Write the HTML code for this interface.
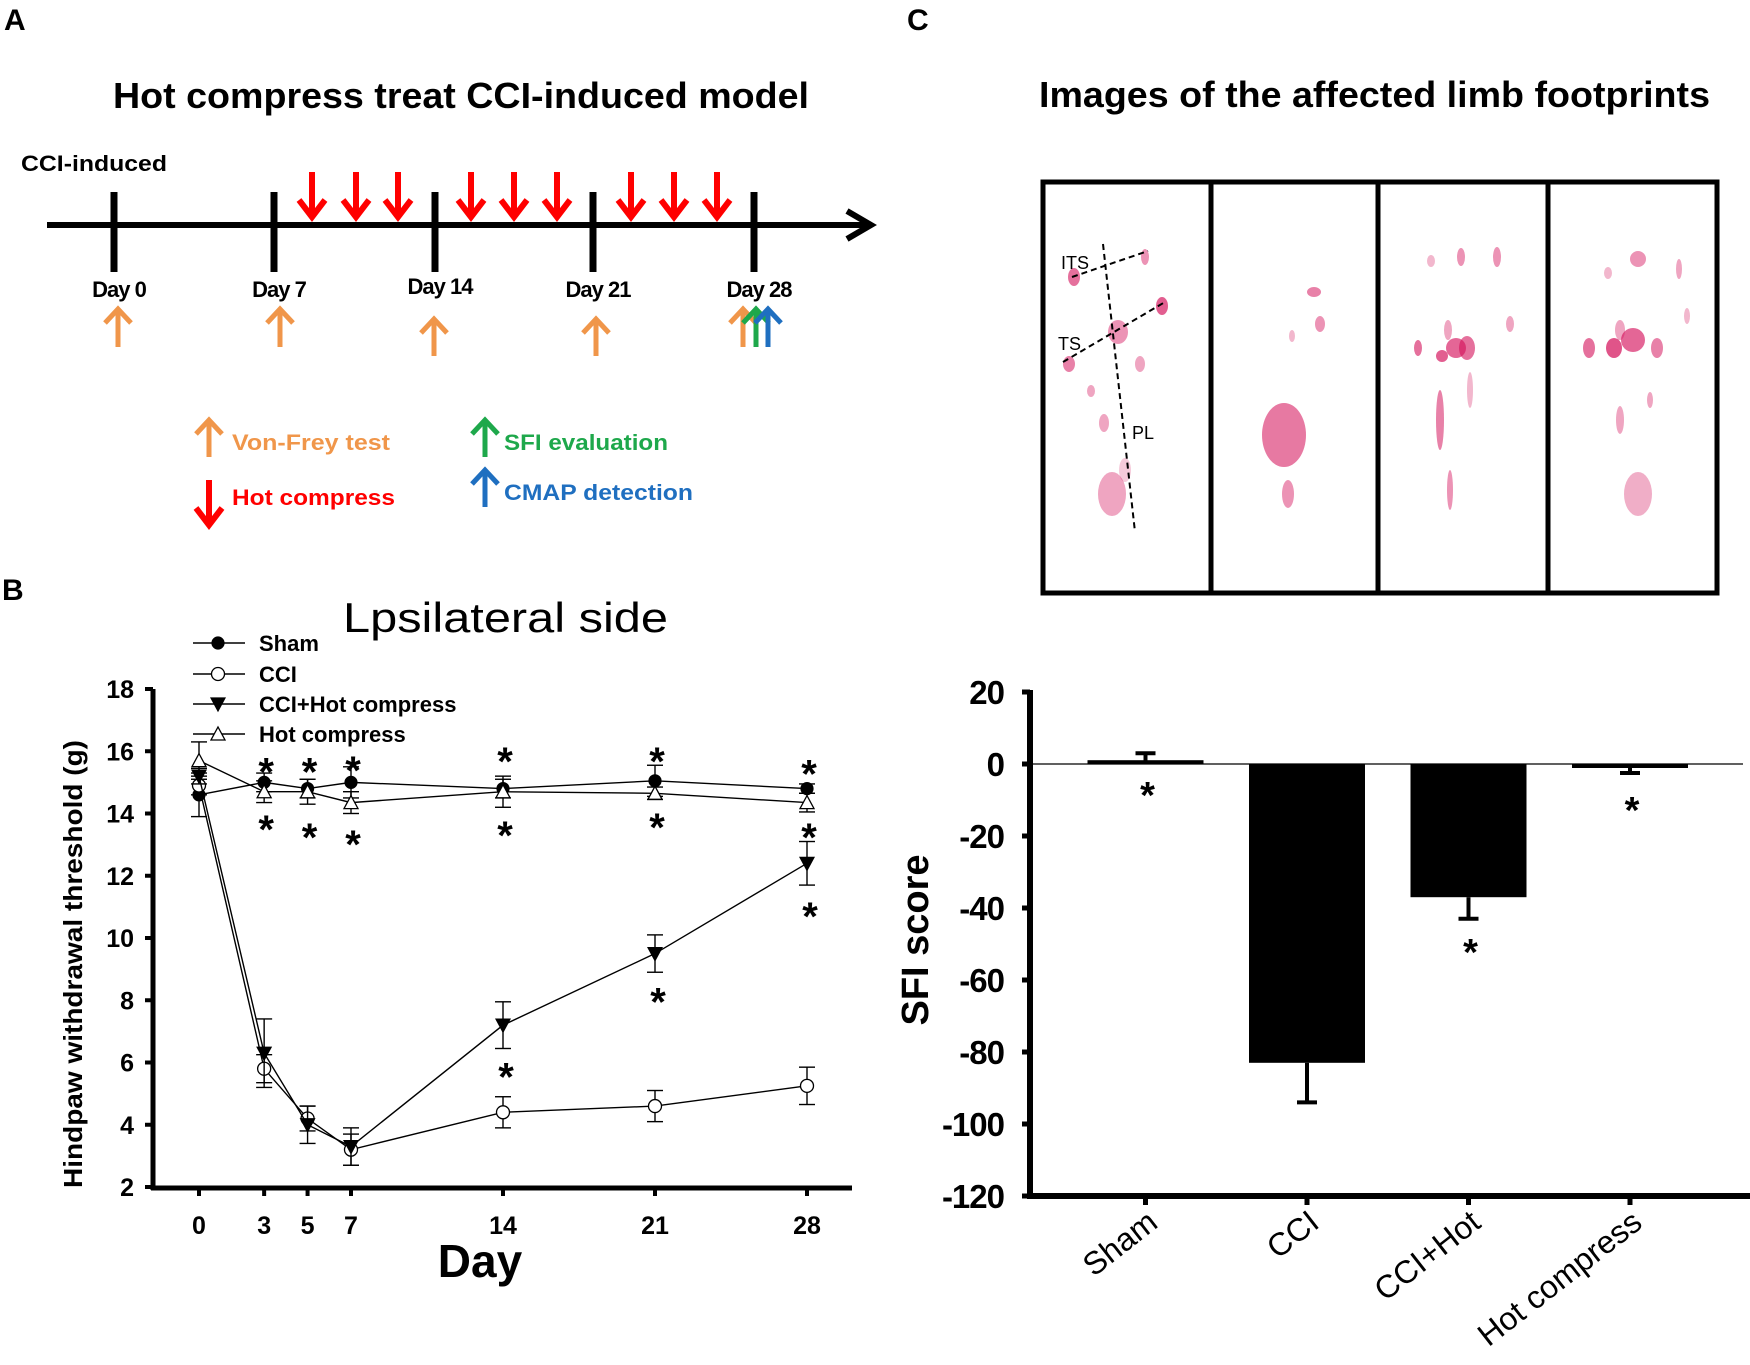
<!DOCTYPE html>
<html><head><meta charset="utf-8"><title>Hot compress CCI figure</title>
<style>
html,body{margin:0;padding:0;background:#fff;}
svg{display:block;font-family:"Liberation Sans",Arial,sans-serif;}
</style></head>
<body>
<svg id="fig" width="1750" height="1365" viewBox="0 0 1750 1365" xmlns="http://www.w3.org/2000/svg">
<rect width="1750" height="1365" fill="#fff"/>
<!-- Panel letters -->
<text x="4" y="30" font-size="30" font-weight="bold">A</text>
<text x="2" y="600" font-size="30" font-weight="bold">B</text>
<text x="907" y="30" font-size="30" font-weight="bold">C</text>

<!-- Panel A -->
<g>
<text x="113" y="108" font-size="36" font-weight="bold" textLength="696" lengthAdjust="spacingAndGlyphs">Hot compress treat CCI-induced model</text>
<text x="21" y="171" font-size="22" font-weight="bold" textLength="146" lengthAdjust="spacingAndGlyphs">CCI-induced</text>
<line x1="47" y1="225" x2="870" y2="225" stroke="#000" stroke-width="6"/>
<polyline points="847,211 871,225 847,239" fill="none" stroke="#000" stroke-width="6" stroke-linejoin="miter"/>
<g id="tl"></g>
<g id="legendA"></g>
</g>

<!-- Panel C footprints -->
<g>
<text x="1039" y="107" font-size="36" font-weight="bold" textLength="671" lengthAdjust="spacingAndGlyphs">Images of the affected limb footprints</text>
<g id="fp"></g>
</g>

<g id="lineChart"></g>
<g id="barChart"></g>
</svg>
<script>
// ===== Line chart data =====
const days = [0, 3, 5, 7, 14, 21, 28];
const yTicks = [2, 4, 6, 8, 10, 12, 14, 16, 18];
const shamVals = [14.6, 15.0, 14.8, 15.0, 14.8, 15.05, 14.8];
const shamErr = [0.7, 0.3, 0.3, 0.5, 0.3, 0.5, 0.15];
const cciVals = [14.9, 5.8, 4.2, 3.2, 4.4, 4.6, 5.25];
const cciErr = [0.3, 0.45, 0.4, 0.5, 0.5, 0.5, 0.6];
const cciHotVals = [15.2, 6.3, 4.0, 3.3, 7.2, 9.5, 12.4];
const cciHotErr = [0.25, 1.1, 0.6, 0.6, 0.75, 0.6, 0.7];
const hotVals = [15.7, 14.7, 14.7, 14.35, 14.7, 14.65, 14.35];
const hotErr = [0.6, 0.35, 0.4, 0.35, 0.5, 0.2, 0.3];
const starDays = [3, 5, 7, 14, 21, 28];
const starAbove = [15.6, 15.6, 15.65, 15.95, 15.95, 15.55];
const starBelow = [13.76, 13.5, 13.28, 13.57, 13.83, 13.5];
const starCciHotDays = [14, 21, 28];
const starCciHot = [5.81, 8.22, 10.97];

// ===== Bar chart data =====
const groups = ['Sham', 'CCI', 'CCI+Hot', 'Hot compress'];
const sfiVals = [0.5, -83, -37, -0.5];
const sfiErr = [2.5, 11, 6, 2];
const sfiTicks = [20, 0, -20, -40, -60, -80, -100, -120];
const sfiStars = [-6.7, null, -50.3, -10.8];

const NS = 'http://www.w3.org/2000/svg';
function mk(tag, attrs, parent, txt) {
  const e = document.createElementNS(NS, tag);
  for (const k in attrs) e.setAttribute(k, attrs[k]);
  if (txt !== undefined) e.textContent = txt;
  parent.appendChild(e);
  return e;
}

// ----- Timeline (panel A) -----
(function () {
  const g = document.getElementById('tl');
  const tickX = [114, 274, 435, 593, 754];
  const labels = ['Day 0', 'Day 7', 'Day 14', 'Day 21', 'Day 28'];
  const labY = [297, 297, 294, 297, 297];
  tickX.forEach((x, i) => {
    const t = mk('line', {x1: x, y1: 192, x2: x, y2: 272, stroke: '#000', 'stroke-width': 7}, g);
    
    
    const l = mk('text', {x: x + 5, y: labY[i], 'font-size': 22, 'font-weight': 'bold', 'text-anchor': 'middle', 'letter-spacing': '-1'}, g, labels[i]);
    
    
  });
  function down(x, y1, y2, col, parent) {
    const a = mk('g', {}, parent);
    
    
    mk('line', {x1: x, y1: y1, x2: x, y2: y2 - 4, stroke: col, 'stroke-width': 6}, a);
    mk('polyline', {points: `${x - 13},${y2 - 17} ${x},${y2} ${x + 13},${y2 - 17}`, fill: 'none', stroke: col, 'stroke-width': 6}, a);
  }
  function up(x, y1, y2, col, parent, name) {
    const a = mk('g', {}, parent);
    
    
    mk('line', {x1: x, y1: y1 + 4, x2: x, y2: y2, stroke: col, 'stroke-width': 5}, a);
    mk('polyline', {points: `${x - 13},${y1 + 16} ${x},${y1 + 2} ${x + 13},${y1 + 16}`, fill: 'none', stroke: col, 'stroke-width': 5}, a);
  }
  [312, 356, 398, 471, 514, 557, 631, 674, 717].forEach(x => down(x, 172, 217, '#f00', g));
  const OR = '#f0964a', GR = '#1ea84b', BL = '#1f6fc0', RD = '#f00';
  [[118, 307, 347], [280, 307, 347], [434, 317, 356], [596, 317, 356], [743, 307, 347]].forEach(a => up(a[0], a[1], a[2], OR, g, 'von-frey-arrow'));
  up(756, 307, 347, GR, g, 'sfi-arrow');
  up(768, 307, 347, BL, g, 'cmap-arrow');
  const L = document.getElementById('legendA');
  up(209, 418, 457, OR, L, 'legend-von-frey-icon');
  down(209, 480, 525, RD, L);
  up(485, 418, 457, GR, L, 'legend-sfi-icon');
  up(485, 468, 507, BL, L, 'legend-cmap-icon');
  const t1 = mk('text', {x: 232, y: 450, 'font-size': 22, 'font-weight': 'bold', fill: OR, textLength: 158, lengthAdjust: 'spacingAndGlyphs'}, L, 'Von-Frey test');
  
  
  const t2 = mk('text', {x: 232, y: 505, 'font-size': 22, 'font-weight': 'bold', fill: RD, textLength: 163, lengthAdjust: 'spacingAndGlyphs'}, L, 'Hot compress');
  
  
  const t3 = mk('text', {x: 504, y: 450, 'font-size': 22, 'font-weight': 'bold', fill: GR, textLength: 164, lengthAdjust: 'spacingAndGlyphs'}, L, 'SFI evaluation');
  
  
  const t4 = mk('text', {x: 504, y: 500, 'font-size': 22, 'font-weight': 'bold', fill: BL, textLength: 189, lengthAdjust: 'spacingAndGlyphs'}, L, 'CMAP detection');
  
  
})();

// ----- Footprints (panel C) -----
(function () {
  const g = document.getElementById('fp');
  const frame = mk('rect', {x: 1043, y: 182, width: 674, height: 411, fill: 'none', stroke: '#000', 'stroke-width': 5}, g);
  
  
  [1211, 1378, 1548].forEach(x => {
    const d = mk('line', {x1: x, y1: 182, x2: x, y2: 593, stroke: '#000', 'stroke-width': 5}, g);
    
    
  });
  const spots = [
    [1074,277,6,9,.8],[1145,257,4,8,.6],[1162,306,6,9,.9],[1118,332,10,12,.6],[1069,364,6,8,.7],[1140,364,5,8,.5],[1091,391,4,6,.5],[1104,423,5,9,.5],[1112,494,14,22,.5],[1125,470,6,12,.3],
    [1284,435,22,32,.75],[1288,494,6,14,.6],[1314,292,7,5,.7],[1320,324,5,8,.6],[1292,336,3,6,.4],
    [1456,348,10,10,.85],[1467,348,8,12,.8],[1442,356,6,6,.9],[1418,348,4,8,.8],[1461,257,4,9,.6],[1431,261,4,6,.4],[1497,257,4,10,.6],[1510,324,4,8,.5],[1448,330,4,10,.5],[1440,420,4,30,.7],[1450,490,3,20,.6],[1470,390,3,18,.4],
    [1633,340,12,12,.85],[1614,348,8,10,.95],[1589,348,6,10,.8],[1657,348,6,10,.7],[1638,259,8,8,.6],[1608,273,4,6,.4],[1679,269,3,10,.5],[1687,316,3,8,.4],[1620,330,5,10,.5],[1638,494,14,22,.45],[1620,420,4,14,.5],[1650,400,3,8,.5]
  ];
  spots.forEach(s => {
    const e = mk('ellipse', {cx: s[0], cy: s[1], rx: s[2], ry: s[3], fill: '#d4105a', 'fill-opacity': s[4] * 0.75}, g);
    
    
  });
  const dl = [[1103,244,1135,532],[1072,277,1148,251],[1063,362,1165,302]];
  dl.forEach(l => {
    const d = mk('line', {x1: l[0], y1: l[1], x2: l[2], y2: l[3], stroke: '#000', 'stroke-width': 2, 'stroke-dasharray': '6,4'}, g);
    
    
  });
  [['ITS',1061,269],['TS',1058,350],['PL',1132,439]].forEach(t => {
    const e = mk('text', {x: t[1], y: t[2], 'font-size': 18}, g, t[0]);
    
    
  });
})();

// ----- Line chart (panel B) -----
(function () {
  const g = document.getElementById('lineChart');
  const X0 = 199, XPD = (807 - 199) / 28, Y2 = 1187, YPU = (1187 - 689) / 16;
  const xs = d => X0 + d * XPD;
  const ys = v => Y2 - (v - 2) * YPU;
  const t = mk('text', {x: 343, y: 632, 'font-size': 42, textLength: 325, lengthAdjust: 'spacingAndGlyphs'}, g, 'Lpsilateral side');
  
  
  const ya = mk('line', {x1: 153, y1: 689, x2: 153, y2: 1190, stroke: '#000', 'stroke-width': 5}, g);
  
  
  const xa = mk('line', {x1: 151, y1: 1188, x2: 852, y2: 1188, stroke: '#000', 'stroke-width': 5}, g);
  
  
  yTicks.forEach(v => {
    mk('line', {x1: 145, y1: ys(v), x2: 153, y2: ys(v), stroke: '#000', 'stroke-width': 4}, g);
    const l = mk('text', {x: 134, y: ys(v) + 9, 'font-size': 25, 'font-weight': 'bold', 'text-anchor': 'end'}, g, String(v));
    
    
  });
  days.forEach(d => {
    mk('line', {x1: xs(d), y1: 1188, x2: xs(d), y2: 1196, stroke: '#000', 'stroke-width': 4}, g);
    const l = mk('text', {x: xs(d), y: 1234, 'font-size': 25, 'font-weight': 'bold', 'text-anchor': 'middle'}, g, String(d));
    
    
  });
  const xt = mk('text', {x: 480, y: 1277, 'font-size': 46, 'font-weight': 'bold', 'text-anchor': 'middle'}, g, 'Day');
  
  
  const yt = mk('text', {x: 0, y: 0, 'font-size': 26, 'font-weight': 'bold', 'text-anchor': 'middle', transform: 'translate(82,964) rotate(-90)', textLength: 448, lengthAdjust: 'spacingAndGlyphs'}, g, 'Hindpaw withdrawal threshold (g)');
  
  

  function marker(parent, type, x, y) {
    let m;
    if (type === 'fc') m = mk('circle', {cx: x, cy: y, r: 6, fill: '#000', stroke: '#000', 'stroke-width': 1.2}, parent);
    if (type === 'oc') m = mk('circle', {cx: x, cy: y, r: 6.5, fill: '#fff', stroke: '#000', 'stroke-width': 1.3}, parent);
    if (type === 'dt') m = mk('polygon', {points: `${x - 7},${y - 6} ${x + 7},${y - 6} ${x},${y + 7}`, fill: '#000', stroke: '#000', 'stroke-width': 1.2}, parent);
    if (type === 'ut') m = mk('polygon', {points: `${x - 7},${y + 6} ${x + 7},${y + 6} ${x},${y - 7}`, fill: '#fff', stroke: '#000', 'stroke-width': 1.3}, parent);
    return m;
  }
  const series = [
    ['sham', shamVals, shamErr, 'fc'],
    ['cci', cciVals, cciErr, 'oc'],
    ['cci-hot', cciHotVals, cciHotErr, 'dt'],
    ['hot', hotVals, hotErr, 'ut']
  ];
  series.forEach(s => {
    const sg = mk('g', {}, g);
    
    
    const pts = days.map((d, i) => xs(d) + ',' + ys(s[1][i])).join(' ');
    const pl = mk('polyline', {points: pts, fill: 'none', stroke: '#000', 'stroke-width': 1.4}, sg);
    
    
    days.forEach((d, i) => {
      const x = xs(d), v = s[1][i], e = s[2][i];
      mk('line', {x1: x, y1: ys(v + e), x2: x, y2: ys(v - e), stroke: '#000', 'stroke-width': 1.4}, sg);
      mk('line', {x1: x - 8, y1: ys(v + e), x2: x + 8, y2: ys(v + e), stroke: '#000', 'stroke-width': 1.4}, sg);
      mk('line', {x1: x - 8, y1: ys(v - e), x2: x + 8, y2: ys(v - e), stroke: '#000', 'stroke-width': 1.4}, sg);
    });
    days.forEach((d, i) => {
      const m = marker(sg, s[3], xs(d), ys(s[1][i]));
      
      
    });
  });
  function star(x, yc, name) {
    const s = mk('text', {x: x, y: yc + 22, 'font-size': 40, 'font-weight': 'bold', 'text-anchor': 'middle'}, g, '*');
    
    
  }
  starDays.forEach((d, i) => {
    star(xs(d) + 2, ys(starAbove[i]), 'significance-star');
    star(xs(d) + 2, ys(starBelow[i]), 'significance-star');
  });
  starCciHotDays.forEach((d, i) => star(xs(d) + 3, ys(starCciHot[i]), 'significance-star'));
  // legend
  const lg = mk('g', {}, g);
  
  
  const names = ['Sham', 'CCI', 'CCI+Hot compress', 'Hot compress'];
  const lys = [643, 674, 704, 734];
  series.forEach((s, i) => {
    const e = mk('g', {}, lg);
    
    
    mk('line', {x1: 193, y1: lys[i], x2: 245, y2: lys[i], stroke: '#000', 'stroke-width': 1.4}, e);
    marker(e, s[3], 218, lys[i]);
    mk('text', {x: 259, y: lys[i] + 8, 'font-size': 22, 'font-weight': 'bold'}, e, names[i]);
  });
})();

// ----- Bar chart (panel C lower) -----
(function () {
  const g = document.getElementById('barChart');
  const AX = 1030, Y0 = 764, UPP = (1196 - 692) / 140, BW = 116;
  const ys = v => Y0 - v * UPP;
  const cx = i => 1145.5 + i * 161.5;
  const ya = mk('line', {x1: AX, y1: 690, x2: AX, y2: 1199, stroke: '#000', 'stroke-width': 6}, g);
  
  
  const xa = mk('line', {x1: AX - 3, y1: 1196, x2: 1750, y2: 1196, stroke: '#000', 'stroke-width': 6}, g);
  
  
  const zl = mk('line', {x1: AX, y1: Y0, x2: 1743, y2: Y0, stroke: '#000', 'stroke-width': 1.2}, g);
  
  
  sfiTicks.forEach(v => {
    mk('line', {x1: AX - 8, y1: ys(v), x2: AX, y2: ys(v), stroke: '#000', 'stroke-width': 5}, g);
    const l = mk('text', {x: 1004, y: ys(v) + 12, 'font-size': 33, 'font-weight': 'bold', 'text-anchor': 'end', 'letter-spacing': '-1'}, g, String(v));
    
    
  });
  const yt = mk('text', {x: 0, y: 0, 'font-size': 38, 'font-weight': 'bold', 'text-anchor': 'middle', transform: 'translate(928,940) rotate(-90)'}, g, 'SFI score');
  
  
  groups.forEach((name, i) => {
    const x = cx(i), v = sfiVals[i], e = sfiErr[i];
    const top = Math.min(ys(0), ys(v)), h = Math.max(Math.abs(ys(v) - ys(0)), 4);
    const b = mk('rect', {x: x - BW / 2, y: v >= 0 ? ys(v) - 2 : top, width: BW, height: h, fill: '#000'}, g);
    
    
    const ev = v >= 0 ? v + e : v - e;
    const base = v >= 0 ? ys(v) : ys(v);
    const el = mk('line', {x1: x, y1: base, x2: x, y2: ys(ev), stroke: '#000', 'stroke-width': 4}, g);
    
    
    mk('line', {x1: x - 10, y1: ys(ev), x2: x + 10, y2: ys(ev), stroke: '#000', 'stroke-width': 4}, g);
    mk('line', {x1: x, y1: 1196, x2: x, y2: 1205, stroke: '#000', 'stroke-width': 5}, g);
    if (sfiStars[i] !== null) {
      const s = mk('text', {x: x + 2, y: ys(sfiStars[i]) + 20, 'font-size': 38, 'font-weight': 'bold', 'text-anchor': 'middle'}, g, '*');
      
      
    }
    const l = mk('text', {x: 0, y: 0, 'font-size': 32, 'text-anchor': 'end', transform: `translate(${x + 14},${1226}) rotate(-38)`}, g, name);
    
    
  });
})();
</script>
</body></html>
